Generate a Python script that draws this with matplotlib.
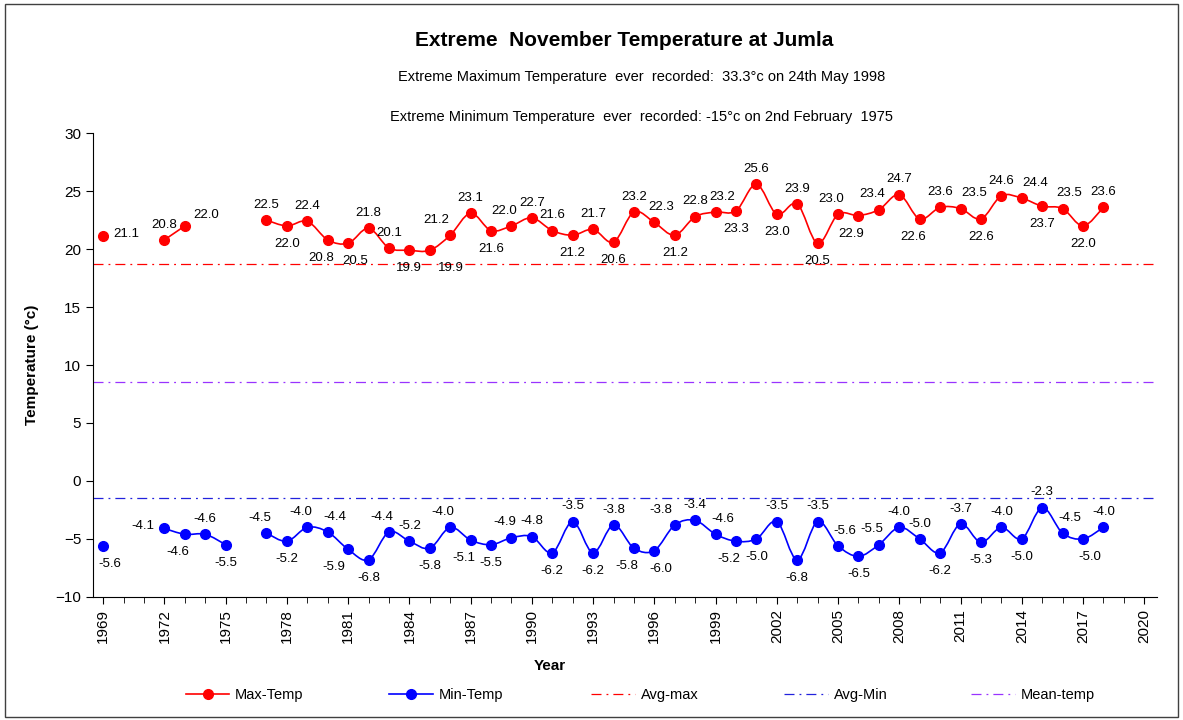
import numpy as np
import matplotlib
matplotlib.use("Agg")
import matplotlib.pyplot as plt
from matplotlib.path import Path
from matplotlib.patches import PathPatch, Rectangle
from matplotlib.lines import Line2D

plt.rcParams['font.family'] = ['Liberation Sans', 'DejaVu Sans']

years = list(range(1969, 2019))
nan = np.nan

# November extreme max temperature (c), nan = no record
max_temp = [21.1, nan, nan, 20.8, 22.0, nan, nan, nan, 22.5, 22.0,
            22.4, 20.8, 20.5, 21.8, 20.1, 19.9, 19.9, 21.2, 23.1, 21.6,
            22.0, 22.7, 21.6, 21.2, 21.7, 20.6, 23.2, 22.3, 21.2, 22.8,
            23.2, 23.3, 25.6, 23.0, 23.9, 20.5, 23.0, 22.9, 23.4, 24.7,
            22.6, 23.6, 23.5, 22.6, 24.6, 24.4, 23.7, 23.5, 22.0, 23.6]

# November extreme min temperature (c)
min_temp = [-5.6, nan, nan, -4.1, -4.6, -4.6, -5.5, nan, -4.5, -5.2,
            -4.0, -4.4, -5.9, -6.8, -4.4, -5.2, -5.8, -4.0, -5.1, -5.5,
            -4.9, -4.8, -6.2, -3.5, -6.2, -3.8, -5.8, -6.0, -3.8, -3.4,
            -4.6, -5.2, -5.0, -3.5, -6.8, -3.5, -5.6, -6.5, -5.5, -4.0,
            -5.0, -6.2, -3.7, -5.3, -4.0, -5.0, -2.3, -4.5, -5.0, -4.0]

avg_max = 18.7
avg_min = -1.5
mean_temp = 8.55

# data label placement: a=above, b=below, r=right, l=left, R=up-right
# each '>' / '<' nudges the label a bit right / left
max_lbl = {1969: 'r', 1972: 'a', 1973: 'R', 1977: 'a', 1978: 'b', 1979: 'a', 1980: 'b<',
           1981: 'b>', 1982: 'a', 1983: 'a', 1984: 'b', 1985: 'b>>>', 1986: 'a<<', 1987: 'a',
           1988: 'b', 1989: 'a<', 1990: 'a', 1991: 'a', 1992: 'b', 1993: 'a', 1994: 'b',
           1995: 'a', 1996: 'a>', 1997: 'b', 1998: 'a', 1999: 'a>', 2000: 'b', 2001: 'a',
           2002: 'b', 2003: 'a', 2004: 'b', 2005: 'a<', 2006: 'b<', 2007: 'a<', 2008: 'a',
           2009: 'b<', 2010: 'a', 2011: 'a>>', 2012: 'b', 2013: 'a', 2014: 'a>>', 2015: 'b',
           2016: 'a>', 2017: 'b', 2018: 'a'}

min_lbl = {1969: 'b>', 1972: 'l', 1973: 'b<', 1974: 'a', 1975: 'b', 1977: 'a<', 1978: 'b',
           1979: 'a<', 1980: 'a>', 1981: 'b<<', 1982: 'b', 1983: 'a<', 1984: 'a', 1985: 'b',
           1986: 'a<', 1987: 'b<', 1988: 'b', 1989: 'a<', 1990: 'a', 1991: 'b', 1992: 'a',
           1993: 'b', 1994: 'a', 1995: 'b<', 1996: 'b>', 1997: 'a<<', 1998: 'a', 1999: 'a>',
           2000: 'b<', 2001: 'b', 2002: 'a', 2003: 'b', 2004: 'a', 2005: 'a>', 2006: 'b',
           2007: 'a<', 2008: 'a', 2009: 'a', 2010: 'b', 2011: 'a', 2012: 'b', 2013: 'a',
           2014: 'b', 2015: 'a', 2016: 'a>', 2017: 'b>', 2018: 'a'}


def smooth_runs(ax, xs, ys, color):
    # smoothed line like Excel, bezier path through the points in data coords
    xs = np.asarray(xs, float)
    ys = np.asarray(ys, float)
    runs = []
    cur = []
    for i in range(len(xs)):
        if not np.isnan(ys[i]):
            cur.append(i)
        else:
            if cur:
                runs.append(cur)
            cur = []
    if cur:
        runs.append(cur)
    for r in runs:
        if len(r) < 2:
            continue
        px = xs[r]
        py = ys[r]
        n = len(px)
        verts = [(px[0], py[0])]
        codes = [Path.MOVETO]
        for i in range(n - 1):
            i0 = max(i - 1, 0)
            i3 = min(i + 2, n - 1)
            c1 = (px[i] + (px[i + 1] - px[i0]) / 6, py[i] + (py[i + 1] - py[i0]) / 6)
            c2 = (px[i + 1] - (px[i3] - px[i]) / 6, py[i + 1] - (py[i3] - py[i]) / 6)
            verts += [c1, c2, (px[i + 1], py[i + 1])]
            codes += [Path.CURVE4] * 3
        ax.add_patch(PathPatch(Path(verts, codes), facecolor='none',
                               edgecolor=color, lw=1.2, zorder=3))


def add_labels(ax, xs, ys, pos):
    for x, y in zip(xs, ys):
        if np.isnan(y):
            continue
        code = pos.get(x, 'a')
        nudge = (code.count('>') - code.count('<')) * 5.0  # points
        p = code[0]
        ha = 'center'
        if p == 'a':
            off = (nudge, 11)
        elif p == 'b':
            off = (nudge, -13)
        elif p == 'r':
            off, ha = (7, 2), 'left'
        elif p == 'R':
            off, ha = (6, 8), 'left'
        else:
            off, ha = (-7, 2), 'right'
        ax.annotate(f"{y:.1f}", (x, y), xytext=off, textcoords='offset points',
                    ha=ha, va='center', fontsize=9.5, color='black', zorder=5)


fig = plt.figure(figsize=(11.83, 7.2), dpi=100)
ax = fig.add_axes([0.0786, 0.171, 0.899, 0.644])

fig.patches.append(Rectangle((0.004, 0.004), 0.992, 0.990, transform=fig.transFigure,
                             fill=False, edgecolor='#404040', lw=1.0))

smooth_runs(ax, years, max_temp, 'red')
smooth_runs(ax, years, min_temp, 'blue')
ax.plot(years, max_temp, 'o', color='red', ms=7, zorder=4)
ax.plot(years, min_temp, 'o', color='blue', ms=7, zorder=4)

dashdot = (0, (8, 4, 1.5, 4))
ax.axhline(avg_max, color='red', lw=0.9, ls=dashdot, zorder=2)
ax.axhline(avg_min, color='#2222dd', lw=0.9, ls=dashdot, zorder=2)
ax.axhline(mean_temp, color='#9933ff', lw=0.9, ls=dashdot, zorder=2)

add_labels(ax, years, max_temp, max_lbl)
add_labels(ax, years, min_temp, min_lbl)

ax.set_xlim(1968.5, 2020.6)
ax.set_ylim(-10, 30)
ax.set_yticks(range(-10, 31, 5))
ax.set_xticks(range(1969, 2021, 3))
ax.set_xticks(range(1969, 2021), minor=True)
ax.tick_params(axis='x', which='major', labelrotation=90, labelsize=11, length=5, direction='out')
ax.tick_params(axis='x', which='minor', length=4, direction='out')
ax.tick_params(axis='y', labelsize=11, length=5, direction='out')
for s in ['top', 'right']:
    ax.spines[s].set_visible(False)

ax.set_xlabel("Year", fontsize=11, fontweight='bold')
ax.xaxis.set_label_coords(0.43, -0.135)
ax.set_ylabel("Temperature (°c)", fontsize=11, fontweight='bold')
ax.yaxis.set_label_coords(-0.051, 0.5)

fig.text(0.528, 0.944, "Extreme  November Temperature at Jumla", ha='center', va='center',
         fontsize=15, fontweight='bold')
fig.text(0.542, 0.893, "Extreme Maximum Temperature  ever  recorded:  33.3°c on 24th May 1998",
         ha='center', va='center', fontsize=10.5)
fig.text(0.542, 0.838, "Extreme Minimum Temperature  ever  recorded: -15°c on 2nd February  1975",
         ha='center', va='center', fontsize=10.5)

handles = [
    Line2D([], [], color='red', marker='o', ms=7, lw=1.2),
    Line2D([], [], color='blue', marker='o', ms=7, lw=1.2),
    Line2D([], [], color='red', lw=0.9, ls=dashdot),
    Line2D([], [], color='#2222dd', lw=0.9, ls=dashdot),
    Line2D([], [], color='#9933ff', lw=0.9, ls=dashdot),
]
names = ["Max-Temp", "Min-Temp", "Avg-max", "Avg-Min", "Mean-temp"]
starts = [0.152, 0.324, 0.495, 0.658, 0.816]
for h, nm, x0 in zip(handles, names, starts):
    fig.legend([h], [nm], loc='center left', bbox_to_anchor=(x0, 0.035), frameon=False,
               fontsize=10.5, handlelength=3, handletextpad=0.4, borderaxespad=0)

fig.savefig("out.png", dpi=100)
